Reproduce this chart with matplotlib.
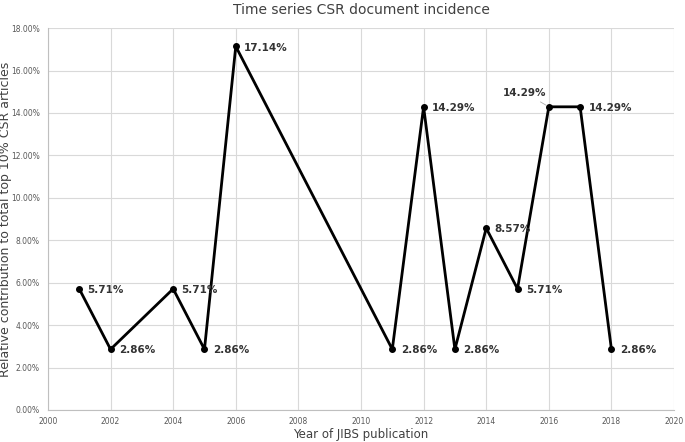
import matplotlib
matplotlib.use("Agg")
import matplotlib.pyplot as plt
from matplotlib.ticker import FuncFormatter, MultipleLocator

years = [2001, 2002, 2004, 2005, 2006, 2011, 2012, 2013, 2014, 2015, 2016, 2017, 2018]
values = [5.71, 2.86, 5.71, 2.86, 17.14, 2.86, 14.29, 2.86, 8.57, 5.71, 14.29, 14.29, 2.86]

fig = plt.figure(figsize=(6.85, 4.42), dpi=100)
ax = fig.add_axes([0.070, 0.0724, 0.914, 0.864])

ax.plot(years, values, color="black", lw=2, marker="o", ms=4, zorder=3)

for i, (x, y) in enumerate(zip(years, values)):
    lab = f"{y:.2f}%"
    if x == 2016:
        ax.annotate(lab, xy=(x, y), xytext=(-33, 8), textcoords="offset points",
                    fontsize=7.5, color="#333333", fontweight="bold",
                    arrowprops=dict(arrowstyle="-", color="#aaaaaa", lw=0.6))
    else:
        ax.annotate(lab, xy=(x, y), xytext=(6, -3), textcoords="offset points",
                    fontsize=7.5, color="#333333", fontweight="bold")

ax.set_xlim(2000, 2020)
ax.set_ylim(0, 18)
ax.xaxis.set_major_locator(MultipleLocator(2))
ax.yaxis.set_major_locator(MultipleLocator(2))
ax.yaxis.set_major_formatter(FuncFormatter(lambda v, p: f"{v:.2f}%"))
ax.grid(True, color="#d9d9d9", lw=0.8)
ax.set_axisbelow(True)
for s in ["top", "right"]:
    ax.spines[s].set_visible(False)
for s in ["left", "bottom"]:
    ax.spines[s].set_color("#bfbfbf")
ax.tick_params(axis="y", length=0, labelsize=5.5, colors="#595959", pad=6)
ax.tick_params(axis="x", length=0, labelsize=5.5, colors="#595959", pad=5)

ax.set_title("Time series CSR document incidence", fontsize=10, color="#404040", pad=10)
ax.set_xlabel("Year of JIBS publication", fontsize=8.5, color="#404040")
ax.xaxis.set_label_coords(0.5, -0.064)
ax.xaxis.label.set_va("center")
ax.set_ylabel("Relative contribution to total top 10% CSR articles", fontsize=9, color="#404040")
ax.yaxis.set_label_coords(-0.057, 0.5)

fig.savefig("out.png", dpi=100)
